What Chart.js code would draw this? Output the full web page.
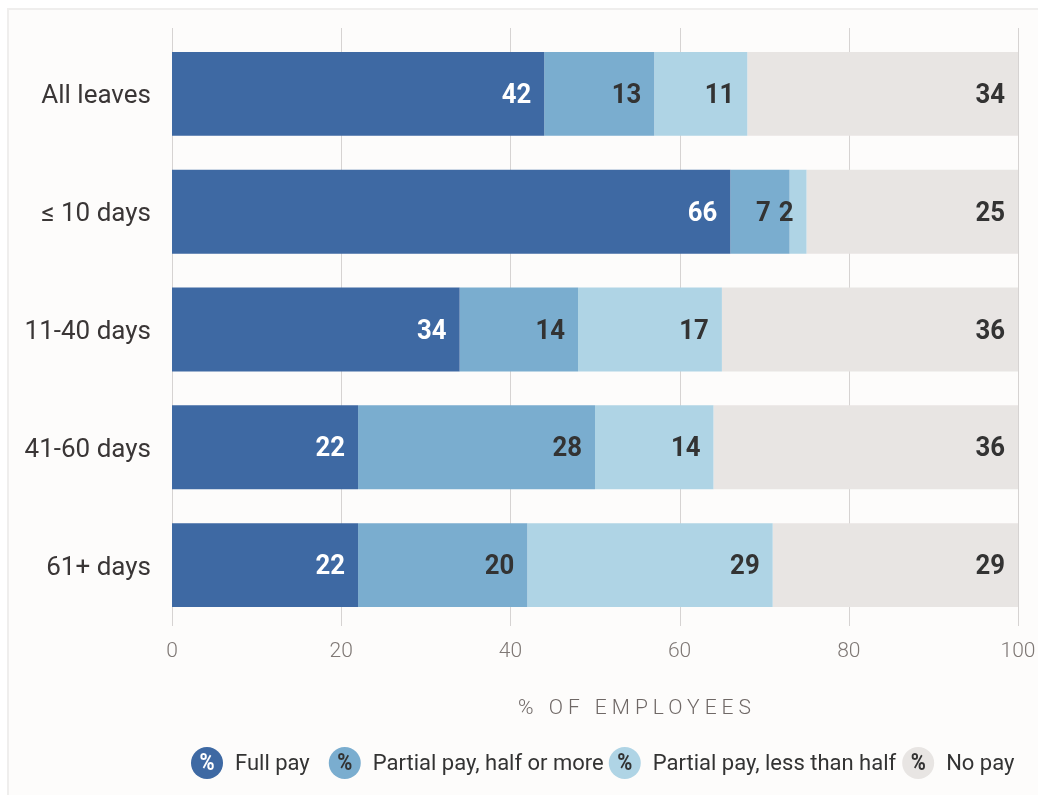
<!DOCTYPE html>
<html>
<head>
<meta charset="utf-8">
<script src="https://cdn.jsdelivr.net/npm/chart.js@4/dist/chart.umd.min.js"></script>
<style>
  html, body { margin: 0; padding: 0; background: #ffffff; }
  #wrap { width: 1038px; height: 795px; }
</style>
</head>
<body>
<div id="wrap"><canvas id="leaveChart" width="1038" height="795"></canvas></div>
<script>
// ğŸ“Š data
const categories = ["All leaves", "≤ 10 days", "11-40 days", "41-60 days", "61+ days"];
const seriesNames = ["Full pay", "Partial pay, half or more", "Partial pay, less than half", "No pay"];
const xTicks = [0, 20, 40, 60, 80, 100];

// bar lengths as drawn (% of employees)
const fullPay = [44, 66, 34, 22, 22];
const partialHalfOrMore = [13, 7, 14, 28, 20];
const partialLessThanHalf = [11, 2, 17, 14, 29];
const noPay = [32, 25, 35, 36, 29];

// numbers printed on the bars
const fullPayText = [42, 66, 34, 22, 22];
const partialHalfText = [13, 7, 14, 28, 20];
const partialLessText = [11, 2, 17, 14, 29];
const noPayText = [34, 25, 36, 36, 29];

const colors = ["#3e69a3", "#7aadcf", "#afd4e5", "#e8e5e3"];
const labelColors = ["#ffffff", "#333333", "#333333", "#333333"];
const FONT = "Roboto, 'Noto Sans', sans-serif";
const LEGEND_GAPS = [19, 5, 6];

// ğŸ› ï¸ helper: text with optional horizontal squeeze
function drawText(ctx, text, x, y, align, squeeze = 1) {
  ctx.save();
  ctx.translate(x, y);
  ctx.scale(squeeze, 1);
  ctx.textAlign = align;
  ctx.textBaseline = "middle";
  ctx.fillText(text, 0, 0);
  ctx.restore();
}

// ğŸ¨ background frame + grid
const backdrop = {
  id: "backdrop",
  beforeDraw(chart) {
    const ctx = chart.ctx;
    ctx.save();
    ctx.fillStyle = "#ffffff";
    ctx.fillRect(0, 0, chart.width, chart.height);
    ctx.fillStyle = "#fdfcfb";
    ctx.fillRect(8, 9, chart.width, chart.height);
    ctx.strokeStyle = "#efeeed";
    ctx.lineWidth = 2;
    ctx.beginPath();
    ctx.moveTo(8, chart.height);
    ctx.lineTo(8, 9);
    ctx.lineTo(chart.width, 9);
    ctx.stroke();
    ctx.restore();
  },
  beforeDatasetsDraw(chart) {
    const ctx = chart.ctx;
    const x = chart.scales.x;
    ctx.save();
    ctx.strokeStyle = "#d6d3d2";
    ctx.lineWidth = 1;
    xTicks.forEach((v) => {
      const px = Math.round(x.getPixelForValue(v)) + 0.5;
      ctx.beginPath();
      ctx.moveTo(px, chart.chartArea.top - 7);
      ctx.lineTo(px, chart.chartArea.bottom + 2);
      ctx.stroke();
    });
    ctx.restore();
  },
};

// ğŸ”¢ labels, axes text, legend
const overlay = {
  id: "overlay",
  afterDatasetsDraw(chart) {
    const ctx = chart.ctx;
    const texts = [fullPayText, partialHalfText, partialLessText, noPayText];
    const squeeze = 0.92;
    ctx.save();
    ctx.font = "bold 28px " + FONT;
    categories.forEach((c, j) => {
      // right to left, push a label left if it runs into the next one
      let limit = Infinity;
      for (let i = chart.data.datasets.length - 1; i >= 0; i--) {
        const bar = chart.getDatasetMeta(i).data[j];
        const text = String(texts[i][j]);
        const w = ctx.measureText(text).width * squeeze;
        const right = Math.min(bar.x - 13, limit - 8);
        ctx.fillStyle = labelColors[i];
        drawText(ctx, text, right, bar.y + 2, "right", squeeze);
        limit = right - w;
      }
    });
    ctx.restore();
  },
  afterDraw(chart) {
    const ctx = chart.ctx;
    const x = chart.scales.x;
    const y = chart.scales.y;
    ctx.save();

    // category labels
    ctx.font = "26px " + FONT;
    ctx.fillStyle = "#3a3636";
    categories.forEach((c, i) => {
      drawText(ctx, c, 151, y.getPixelForValue(i) + 3, "right");
    });

    // x tick labels
    ctx.font = "300 21px " + FONT;
    ctx.fillStyle = "#7f7875";
    xTicks.forEach((v) => {
      drawText(ctx, String(v), x.getPixelForValue(v), 652, "center");
    });

    // axis title
    ctx.font = "300 21px " + FONT;
    ctx.fillStyle = "#6f6866";
    ctx.letterSpacing = "5px";
    drawText(ctx, "% OF EMPLOYEES", 637, 709, "center");
    ctx.letterSpacing = "0px";

    // legend
    let lx = 191;
    const ly = 763;
    chart.data.datasets.forEach((ds, i) => {
      ctx.fillStyle = ds.backgroundColor;
      ctx.beginPath();
      ctx.arc(lx + 16, ly, 16, 0, Math.PI * 2);
      ctx.fill();
      ctx.font = "bold 24px " + FONT;
      ctx.fillStyle = i === 0 ? "#ffffff" : "#333333";
      drawText(ctx, "%", lx + 16, ly + 1, "center", 0.85);
      ctx.font = "22px " + FONT;
      ctx.fillStyle = "#333333";
      drawText(ctx, ds.label, lx + 44, ly + 1, "left");
      lx += 44 + ctx.measureText(ds.label).width + (LEGEND_GAPS[i] || 0);
    });
    ctx.restore();
  },
};

function buildChart() {
  const ctx = document.getElementById("leaveChart");
  const values = [fullPay, partialHalfOrMore, partialLessThanHalf, noPay];

  new Chart(ctx, {
    type: "bar",
    data: {
      labels: categories,
      datasets: seriesNames.map((name, i) => ({
        label: name,
        data: values[i],
        backgroundColor: colors[i],
        borderWidth: 0,
        barPercentage: 0.712,
        categoryPercentage: 1,
      })),
    },
    options: {
      indexAxis: "y",
      responsive: false,
      animation: false,
      layout: { padding: { top: 35, right: 20, left: 0, bottom: 0 } },
      plugins: {
        legend: { display: false },
        tooltip: { enabled: false },
      },
      scales: {
        x: {
          stacked: true,
          min: 0,
          max: 100,
          ticks: { display: false, stepSize: 20 },
          grid: { display: false },
          border: { display: false },
          afterFit(scale) {
            scale.height = 171;
          },
        },
        y: {
          stacked: true,
          ticks: { display: false },
          grid: { display: false },
          border: { display: false },
          afterFit(scale) {
            scale.width = 172;
          },
        },
      },
    },
    plugins: [backdrop, overlay],
  });
}

buildChart();
</script>
</body>
</html>
